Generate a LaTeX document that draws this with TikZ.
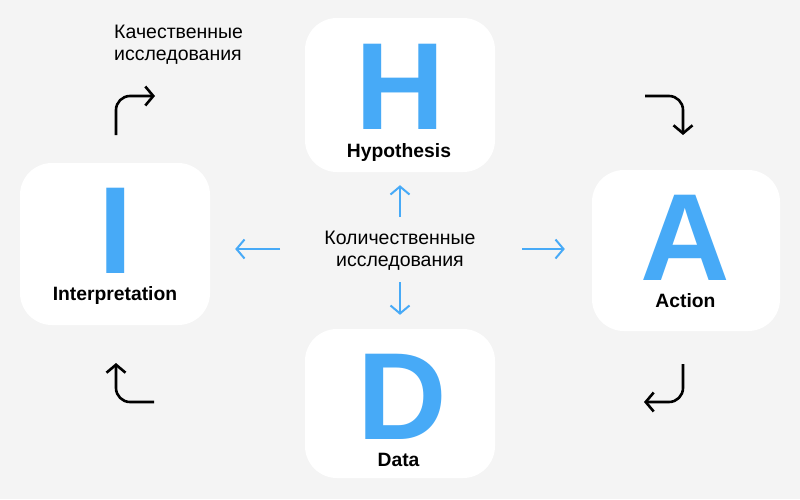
\documentclass[tikz,border=0pt]{standalone}
\usepackage{fontspec}
\setmainfont{Liberation Sans}
\usetikzlibrary{arrows.meta}
\definecolor{bg}{HTML}{F4F4F4}
\definecolor{hblue}{HTML}{47AAF7}
\begin{document}
\begin{tikzpicture}[x=1pt,y=-1pt,
  card/.style={fill=white, rounded corners=32pt, inner sep=0pt},
  bigletter/.style={text=hblue, font=\fontsize{124}{124}\selectfont\bfseries, inner sep=0pt, anchor=base, text height=89pt, text depth=0pt},
  cardlabel/.style={font=\fontsize{19.3}{19.3}\selectfont\bfseries, inner sep=0pt, anchor=base, text height=14pt, text depth=4pt},
  note/.style={font=\fontsize{19.5}{22}\selectfont, inner sep=0pt},
  barrow/.style={draw=hblue, line width=2pt, -{Straight Barb[length=8pt,width=19pt]}},
  karrow/.style={draw=black, line width=2.6pt, rounded corners=14pt, -{Straight Barb[length=8pt,width=19pt]}}
]
\fill[bg] (0,0) rectangle (800,499);
\useasboundingbox (0,0) rectangle (800,499);

% cards
\node[card, minimum width=190pt, minimum height=154pt] (H) at (400,95) {};
\node[card, minimum width=190pt, minimum height=162pt] (I) at (115,244) {};
\node[card, minimum width=188pt, minimum height=161pt] (A) at (686,250.5) {};
\node[card, minimum width=190pt, minimum height=149pt] (D) at (400,403.5) {};

% big letters
\node[bigletter] (Hl) at (400,129) {H};
\node[bigletter] (Il) at (115.5,273) {I};
\node[bigletter] (Al) at (685,280) {A};
\node[bigletter] (Dl) at (402,439) {D};

% labels
\node[cardlabel] (Ht) at (399,157) {Hypothesis};
\node[cardlabel] (It) at (115,300) {Interpretation};
\node[cardlabel] (At) at (685.5,307) {Action};
\node[cardlabel] (Dt) at (398.5,466) {Data};

% texts
\node[note, align=center] (q) at (400,251) {Количественные\\исследования};
\node[note, align=left, anchor=north west] (k) at (114,25.3) {Качественные\\исследования};

% blue arrows
\coordinate (qU) at (400,217);
\coordinate (qD) at (400,282);
\coordinate (qL) at (280,249);
\coordinate (qR) at (522,249);
\draw[barrow, shorten >=13pt] (qU) -- (H.south);
\draw[barrow, shorten >=14pt] (qD) -- (D.north);
\draw[barrow, shorten >=25pt] (qL) -- (qL -| I.east);
\draw[barrow, shorten >=27pt] (qR) -- (qR -| A.west);

% black cycle arrows
\coordinate (tl1) at (116,135);
\coordinate (tl2) at (155,96);
\coordinate (tr1) at (645,96);
\coordinate (tr2) at (683,135);
\coordinate (br1) at (683,364);
\coordinate (br2) at (644,402);
\coordinate (bl1) at (154,402);
\coordinate (bl2) at (116,363);
\draw[karrow] (tl1) |- (tl2);
\draw[karrow] (tr1) -| (tr2);
\draw[karrow] (br1) |- (br2);
\draw[karrow] (bl1) -| (bl2);
\end{tikzpicture}
\end{document}
